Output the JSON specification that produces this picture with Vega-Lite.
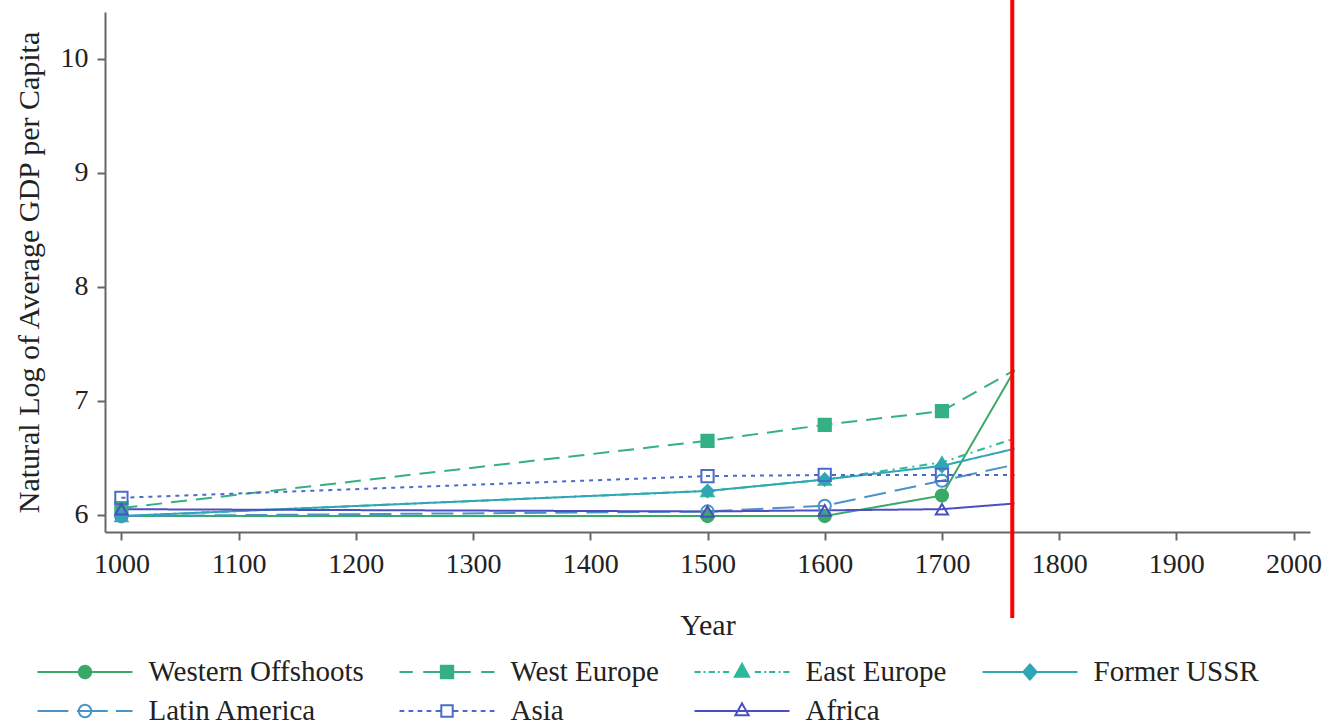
{
  "$schema": "https://vega.github.io/schema/vega-lite/v6.json",
  "width": 1205,
  "height": 520,
  "autosize": "none",
  "padding": {"left": 105, "top": 12, "right": 17, "bottom": 192},
  "background": "white",
  "config": {
    "view": {"stroke": null},
    "axis": {
      "labelFont": "Liberation Serif",
      "titleFont": "Liberation Serif",
      "labelFontSize": 28,
      "titleFontSize": 30,
      "labelColor": "#222",
      "titleColor": "#222",
      "titleFontWeight": "normal",
      "domainColor": "#666",
      "domainWidth": 2,
      "tickColor": "#666",
      "tickWidth": 2,
      "tickSize": 8,
      "grid": false
    }
  },
  "datasets": {
    "gdp": [
      {"region": "Western Offshoots", "year": 1000, "lngdp": 5.99},
      {"region": "Western Offshoots", "year": 1500, "lngdp": 5.99},
      {"region": "Western Offshoots", "year": 1600, "lngdp": 5.99},
      {"region": "Western Offshoots", "year": 1700, "lngdp": 6.17},
      {"region": "Western Offshoots", "year": 1762, "lngdp": 7.27},
      {"region": "West Europe", "year": 1000, "lngdp": 6.06},
      {"region": "West Europe", "year": 1500, "lngdp": 6.65},
      {"region": "West Europe", "year": 1600, "lngdp": 6.79},
      {"region": "West Europe", "year": 1700, "lngdp": 6.91},
      {"region": "West Europe", "year": 1762, "lngdp": 7.27},
      {"region": "East Europe", "year": 1000, "lngdp": 5.99},
      {"region": "East Europe", "year": 1500, "lngdp": 6.21},
      {"region": "East Europe", "year": 1600, "lngdp": 6.31},
      {"region": "East Europe", "year": 1700, "lngdp": 6.46},
      {"region": "East Europe", "year": 1762, "lngdp": 6.67},
      {"region": "Former USSR", "year": 1000, "lngdp": 5.99},
      {"region": "Former USSR", "year": 1500, "lngdp": 6.21},
      {"region": "Former USSR", "year": 1600, "lngdp": 6.31},
      {"region": "Former USSR", "year": 1700, "lngdp": 6.43},
      {"region": "Former USSR", "year": 1762, "lngdp": 6.58},
      {"region": "Latin America", "year": 1000, "lngdp": 5.99},
      {"region": "Latin America", "year": 1500, "lngdp": 6.03},
      {"region": "Latin America", "year": 1600, "lngdp": 6.08},
      {"region": "Latin America", "year": 1700, "lngdp": 6.30},
      {"region": "Latin America", "year": 1762, "lngdp": 6.44},
      {"region": "Asia", "year": 1000, "lngdp": 6.15},
      {"region": "Asia", "year": 1500, "lngdp": 6.34},
      {"region": "Asia", "year": 1600, "lngdp": 6.35},
      {"region": "Asia", "year": 1700, "lngdp": 6.35},
      {"region": "Asia", "year": 1762, "lngdp": 6.35},
      {"region": "Africa", "year": 1000, "lngdp": 6.05},
      {"region": "Africa", "year": 1500, "lngdp": 6.03},
      {"region": "Africa", "year": 1600, "lngdp": 6.04},
      {"region": "Africa", "year": 1700, "lngdp": 6.05},
      {"region": "Africa", "year": 1762, "lngdp": 6.10}
    ],
    "marker": [{"year": 1760}]
  },
  "layer": [
    {
      "data": {"name": "gdp"},
      "mark": {"type": "line", "strokeWidth": 2},
      "encoding": {
        "x": {
          "field": "year", "type": "quantitative",
          "scale": {"domain": [986, 2014], "nice": false, "zero": false},
          "axis": {"title": "Year", "values": [1000,1100,1200,1300,1400,1500,1600,1700,1800,1900,2000], "format": "d", "labelPadding": 10, "titlePadding": 32}
        },
        "y": {
          "field": "lngdp", "type": "quantitative",
          "scale": {"domain": [5.85, 10.41], "nice": false, "zero": false},
          "axis": {"title": "Natural Log of Average GDP per Capita", "values": [6,7,8,9,10], "format": "d", "labelPadding": 9, "titlePadding": 16}
        },
        "color": {
          "field": "region", "type": "nominal",
          "scale": {
            "domain": ["Western Offshoots", "West Europe", "East Europe", "Former USSR", "Latin America", "Asia", "Africa"],
            "range": ["#3aa867", "#34b084", "#2bb89b", "#2fa6b5", "#4a93c8", "#4a6cc8", "#4b4fc2"]
          },
          "legend": {
            "title": null,
            "orient": "none",
            "direction": "horizontal",
            "legendX": -40,
            "legendY": 640,
            "columns": 4,
            "columnPadding": 31,
            "rowPadding": 4,
            "padding": 0,
            "symbolSize": 1444,
            "symbolStrokeWidth": 2,
            "symbolOffset": 0,
            "labelOffset": 43.5,
            "labelFont": "Liberation Serif",
            "labelFontSize": 29,
            "labelColor": "#222",
            "labelLimit": 400,
            "encode": {
              "symbols": {
                "update": {
                  "shape": {"signal": "datum.value === 'Western Offshoots' ? 'M-2.5,0L2.5,0M0.325,0A0.325,0.325,0,1,1,-0.325,0A0.325,0.325,0,1,1,0.325,0Z' : datum.value === 'West Europe' ? 'M-2.5,0L-1.8,0M-1.25,0L1.25,0M1.8,0L2.5,0M-0.325,-0.325L0.325,-0.325L0.325,0.325L-0.325,0.325Z' : datum.value === 'East Europe' ? 'M-2.5,0L-2.175,0M-2.025,0L-1.925,0M-1.75,0L-1.425,0M-1.275,0L-1.175,0M-1,0L-0.675,0M0.675,0L1,0M1.175,0L1.275,0M1.425,0L1.75,0M1.925,0L2.025,0M2.175,0L2.5,0M0,-0.425L0.375,0.25L-0.375,0.25Z' : datum.value === 'Former USSR' ? 'M-2.5,0L2.5,0M0,-0.4L0.35,0L0,0.4L-0.35,0Z' : datum.value === 'Latin America' ? 'M-2.5,0L-0.875,0M-0.425,0L1.2,0M1.625,0L2.5,0M0.325,0A0.325,0.325,0,1,1,-0.325,0A0.325,0.325,0,1,1,0.325,0Z' : datum.value === 'Asia' ? 'M-2.5,0L-2.25,0M-2.025,0L-1.775,0M-1.55,0L-1.3,0M-1.075,0L-0.825,0M-0.6,0L-0.35,0M0.35,0L0.6,0M0.825,0L1.075,0M1.3,0L1.55,0M1.775,0L2.025,0M2.25,0L2.5,0M-0.3,-0.3L0.3,-0.3L0.3,0.3L-0.3,0.3Z' : 'M-2.5,0L2.5,0M0,-0.4L0.35,0.225L-0.35,0.225Z'"},
                  "fill": {"signal": "indexof(['Latin America','Asia','Africa'], datum.value) >= 0 ? 'transparent' : scale('color', datum.value)"},
                  "strokeDash": {"value": [1, 0]},
                  "strokeWidth": {"value": 2},
                  "opacity": {"value": 1}
                }
              }
            }
          }
        },
        "strokeDash": {
          "field": "region", "type": "nominal",
          "scale": {
            "domain": ["West Europe", "Western Offshoots", "East Europe", "Former USSR", "Latin America", "Asia", "Africa"],
            "range": [[16, 9], [1, 0], [8, 5, 2, 5], [1, 0], [22, 9], [4, 5], [1, 0]]
          },
          "legend": null
        }
      }
    },
    {
      "data": {"name": "gdp"},
      "transform": [{"filter": "datum.year <= 1700"}],
      "mark": {"type": "point", "size": 150, "strokeWidth": 2, "opacity": 1, "filled": false},
      "encoding": {
        "x": {"field": "year", "type": "quantitative"},
        "y": {"field": "lngdp", "type": "quantitative"},
        "color": {"field": "region", "type": "nominal"},
        "shape": {
          "field": "region", "type": "nominal",
          "scale": {
            "domain": ["Africa", "Asia", "Latin America", "Former USSR", "East Europe", "West Europe", "Western Offshoots"],
            "range": ["triangle-up", "square", "circle", "diamond", "triangle-up", "square", "circle"]
          },
          "legend": null
        },
        "fill": {
          "field": "region", "type": "nominal",
          "scale": {
            "domain": ["Asia", "Africa", "Western Offshoots", "West Europe", "East Europe", "Former USSR", "Latin America"],
            "range": ["transparent", "transparent", "#3aa867", "#34b084", "#2bb89b", "#2fa6b5", "transparent"]
          },
          "legend": null
        }
      }
    },
    {
      "data": {"name": "marker"},
      "mark": {"type": "rule", "color": "#ff0000", "strokeWidth": 4, "clip": false},
      "encoding": {
        "x": {"field": "year", "type": "quantitative"},
        "y": {"datum": 10.52},
        "y2": {"datum": 5.096}
      }
    }
  ]
}
